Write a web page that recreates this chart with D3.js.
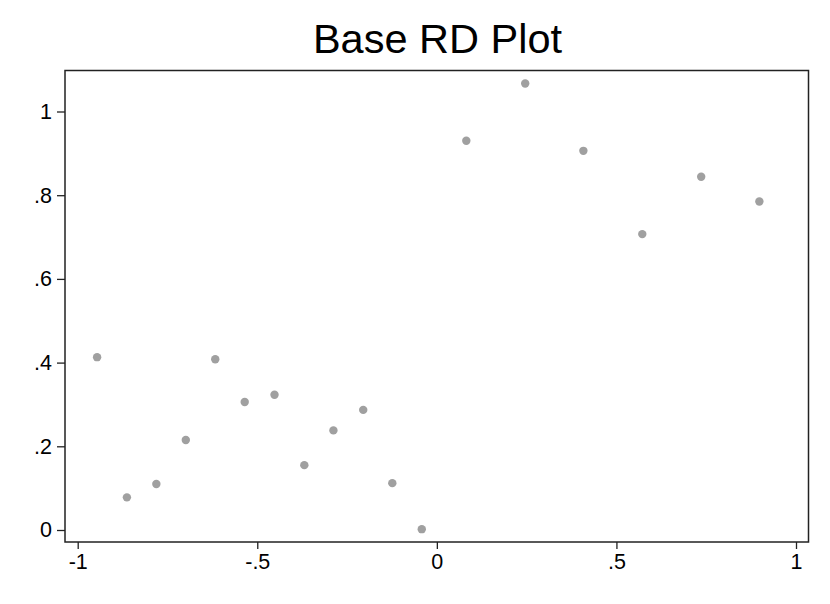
<!DOCTYPE html>
<html><head><meta charset="utf-8">
<script src="https://cdn.jsdelivr.net/npm/d3@7"></script>
<style>body{margin:0;background:#fff}svg{display:block}text{font-family:"Liberation Sans",Arial,sans-serif}</style>
</head><body>
<svg id="c" width="830" height="604"></svg>
<script>
const title = "Base RD Plot";
const xVals = [-0.946,-0.863,-0.781,-0.699,-0.617,-0.535,-0.452,-0.369,-0.288,-0.205,-0.124,-0.042,0.082,0.246,0.408,0.572,0.736,0.898];
const yVals = [0.413,0.078,0.110,0.215,0.408,0.306,0.323,0.155,0.238,0.287,0.112,0.002,0.930,1.067,0.906,0.707,0.844,0.785];
const xTicks = [-1,-0.5,0,0.5,1];
const xTickLabels = ["-1","-.5","0",".5","1"];
const yTicks = [0,0.2,0.4,0.6,0.8,1];
const yTickLabels = ["0",".2",".4",".6",".8","1"];

const svg = d3.select("#c");
const x = d3.scaleLinear().domain([-1,1]).range([77.7,796]);
const y = d3.scaleLinear().domain([0,1]).range([530,111.5]);
const frame = {l:65, r:808.5, t:70.5, b:542};

svg.append("text").attr("x",437.5).attr("y",53).attr("text-anchor","middle")
  .attr("font-size",41.5).attr("fill","#000").text(title);

const xAxis = d3.axisBottom(x).tickValues(xTicks).tickSize(7).tickPadding(5)
  .tickFormat((d,i)=>xTickLabels[i]);
const gx = svg.append("g").attr("transform",`translate(0,${frame.b})`).call(xAxis);
gx.select(".domain").remove();
gx.selectAll(".tick line").attr("stroke","#222").attr("stroke-width",1.3);
gx.selectAll(".tick text").attr("font-size",21.5).attr("fill","#000")
  .attr("font-family","'Liberation Sans',Arial,sans-serif");

const yAxis = d3.axisLeft(y).tickValues(yTicks).tickSize(8).tickPadding(5)
  .tickFormat((d,i)=>yTickLabels[i]);
const gy = svg.append("g").attr("transform",`translate(${frame.l},0)`).call(yAxis);
gy.select(".domain").remove();
gy.selectAll(".tick line").attr("stroke","#222").attr("stroke-width",1.3);
gy.selectAll(".tick text").attr("font-size",21.5).attr("fill","#000")
  .attr("font-family","'Liberation Sans',Arial,sans-serif");

svg.append("rect").attr("x",frame.l).attr("y",frame.t)
  .attr("width",frame.r-frame.l).attr("height",frame.b-frame.t)
  .attr("fill","none").attr("stroke","#222").attr("stroke-width",1.5);

svg.append("g").selectAll("circle").data(xVals).join("circle")
  .attr("cx",(d)=>x(d)).attr("cy",(d,i)=>y(yVals[i])).attr("r",4.2)
  .attr("fill","#a0a0a0");
</script>
</body></html>
